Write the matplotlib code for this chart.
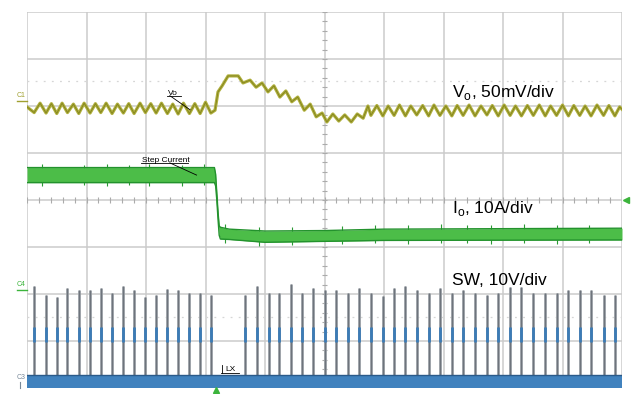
import matplotlib
matplotlib.use("Agg")
import matplotlib.pyplot as plt
import numpy as np

plt.rcParams['font.family'] = ['Liberation Sans', 'DejaVu Sans']

# screen is 10 x 8 divisions, time and level in divisions
# --- Vo trace (vertices, div) ---
vo_t = [0.0, 0.12, 0.22, 0.32, 0.41, 0.50, 0.59, 0.68, 0.78, 0.87, 0.96, 1.06, 1.15, 1.24,
        1.33, 1.43, 1.52, 1.62, 1.71, 1.80, 1.90, 1.99, 2.08, 2.17, 2.26, 2.36, 2.45, 2.54,
        2.63, 2.73, 2.82, 2.91, 3.00, 3.09, 3.16, 3.21, 3.28, 3.38, 3.55, 3.63, 3.75, 3.85,
        3.95, 4.05, 4.15, 4.25, 4.35, 4.45, 4.55, 4.66, 4.76, 4.86, 4.96, 5.04, 5.14, 5.24,
        5.34, 5.45, 5.55, 5.65, 5.73, 5.78, 5.88, 5.98, 6.07, 6.17, 6.26, 6.36, 6.45, 6.55,
        6.65, 6.75, 6.84, 6.94, 7.04, 7.14, 7.23, 7.33, 7.43, 7.53, 7.63, 7.73, 7.82, 7.92,
        8.02, 8.12, 8.21, 8.31, 8.41, 8.51, 8.61, 8.71, 8.80, 8.90, 9.00, 9.10, 9.19, 9.29,
        9.38, 9.48, 9.58, 9.69, 9.78, 9.88, 9.96, 10.0]
vo_v = [1.98, 1.86, 2.06, 1.85, 2.05, 1.84, 2.06, 1.86, 2.04, 1.84, 2.06, 1.85, 2.05, 1.86,
        2.06, 1.84, 2.04, 1.85, 2.05, 1.84, 2.06, 1.86, 2.05, 1.85, 2.06, 1.84, 2.04, 1.83,
        2.06, 1.84, 2.05, 1.84, 2.08, 1.85, 1.91, 2.30, 2.43, 2.64, 2.64, 2.49, 2.55, 2.40,
        2.49, 2.30, 2.43, 2.19, 2.32, 2.09, 2.19, 1.91, 2.04, 1.77, 1.85, 1.66, 1.83, 1.68,
        1.81, 1.66, 1.83, 1.74, 2.00, 1.80, 2.01, 1.79, 2.00, 1.80, 2.02, 1.79, 2.00, 1.81,
        2.01, 1.79, 2.02, 1.80, 2.00, 1.79, 2.01, 1.80, 2.02, 1.79, 2.00, 1.81, 2.01, 1.79,
        2.02, 1.80, 2.00, 1.79, 2.01, 1.80, 2.02, 1.79, 2.00, 1.80, 2.02, 1.79, 2.01, 1.80,
        2.00, 1.79, 2.02, 1.80, 2.01, 1.79, 1.98, 1.93]

# --- Io band (step current) ---
io_t = [0.0, 3.15, 3.17, 3.19, 3.21, 3.23, 3.25, 3.40, 4.0, 5.0, 6.0, 10.0]
io_top = [0.69, 0.69, 0.55, 0.15, -0.25, -0.55, -0.58, -0.62, -0.66, -0.65, -0.62, -0.60]
io_bot = [0.37, 0.37, 0.30, 0.00, -0.40, -0.75, -0.83, -0.84, -0.90, -0.88, -0.86, -0.85]
# noise spikes seen on the band edges
io_spk_t = [0.25, 0.95, 1.35, 1.72, 2.05, 2.60, 2.98, 3.32, 3.90, 4.45, 5.30, 5.85,
            6.40, 6.95, 7.40, 7.80, 8.35, 8.90, 9.45]
io_spk_hi = [0.76, 0.75, 0.77, 0.75, 0.76, 0.75, 0.77, -0.52, -0.58, -0.57, -0.55, -0.53,
             -0.54, -0.52, -0.53, -0.54, -0.52, -0.53, -0.54]
io_spk_lo = [0.30, 0.31, 0.29, 0.31, 0.30, 0.29, 0.31, -0.92, -0.97, -0.95, -0.93, -0.92,
             -0.94, -0.92, -0.91, -0.93, -0.92, -0.94, -0.92]

# --- SW pulses ---
sw_t = [0.12, 0.32, 0.50, 0.68, 0.87, 1.06, 1.24, 1.43, 1.62, 1.80, 1.99, 2.17, 2.36, 2.54,
        2.73, 2.91, 3.09, 3.66, 3.87, 4.06, 4.24, 4.43, 4.63, 4.81, 5.00, 5.19, 5.39, 5.58,
        5.78, 5.98, 6.17, 6.36, 6.55, 6.75, 6.94, 7.14, 7.33, 7.53, 7.73, 7.92, 8.12, 8.31,
        8.51, 8.71, 8.90, 9.10, 9.29, 9.48, 9.69, 9.88]
sw_top = [-1.84, -2.02, -2.06, -1.87, -1.91, -1.91, -1.87, -1.97, -1.84, -1.91, -2.06, -2.02,
          -1.89, -1.91, -1.97, -1.97, -2.02, -2.02, -1.83, -1.97, -1.98, -1.79, -1.97, -1.87,
          -1.91, -1.91, -1.97, -1.88, -1.97, -2.04, -1.88, -1.84, -1.91, -1.97, -1.88, -1.97,
          -1.91, -1.97, -2.02, -1.97, -1.86, -1.86, -1.97, -1.97, -1.97, -1.91, -1.91, -1.91,
          -2.02, -2.02]
sw_base = -3.72

fig = plt.figure(figsize=(6.36, 3.94), dpi=100)
ax = fig.add_axes([27 / 636, 1 - 388 / 394, 595 / 636, 376 / 394])
ax.set_xlim(0, 10)
ax.set_ylim(-4, 4)
ax.set_xticks([])
ax.set_yticks([])
for s in ax.spines.values():
    s.set_visible(False)

# graticule
grid_c = '#cbcbcb'
for x in range(11):
    ax.axvline(x, color=grid_c, lw=1.1, zorder=0)
for y in range(-4, 5):
    ax.axhline(y, color=grid_c, lw=1.1, zorder=0)
tk = np.arange(0, 10.01, 0.2)
ax.vlines(tk, -0.07, 0.07, color='#ababab', lw=0.8, zorder=0)
tk2 = np.arange(-4, 4.01, 0.2)
ax.hlines(tk2, 4.96, 5.04, color='#ababab', lw=0.8, zorder=0)
ax.axhline(2.53, color='#d6d6d6', lw=0.9, ls=(0, (1.5, 5)), zorder=0)
ax.axhline(-2.48, color='#d6d6d6', lw=0.9, ls=(0, (1.5, 5)), zorder=0)

# Vo
ax.plot(vo_t, vo_v, color='#b0b03e', lw=2.3, solid_joinstyle='round', zorder=3)
ax.plot(vo_t, vo_v, color='#85861f', lw=0.7, zorder=4)

# Io
ax.vlines(io_spk_t, io_spk_lo, io_spk_hi, color='#2a9a34', lw=0.8, zorder=3)
ax.fill_between(io_t, io_bot, io_top, color='#4cbd48', lw=0, zorder=3)
ax.plot(io_t, io_top, color='#23922d', lw=1.0, zorder=4)
ax.plot(io_t, io_bot, color='#23922d', lw=1.0, zorder=4)

# SW
ax.vlines(sw_t, sw_base, sw_top, color='#959ba1', lw=2.0, zorder=3)
ax.vlines(sw_t, sw_base, sw_top, color='#5d646c', lw=0.5, zorder=3)
ax.vlines(sw_t, -3.02, -2.70, color='#3b7bb6', lw=2.0, zorder=4)
ax.fill_between([0, 10], -4, sw_base, color='#4182be', lw=0, zorder=3)
ax.axhline(sw_base, color='#2a5a8a', lw=1.0, zorder=4)

# labels
ax.text(7.14, 2.2, r'V$_\mathregular{o}$, 50mV/div', fontsize=12.5, va='baseline', zorder=6)
ax.text(7.14, -0.28, r'I$_\mathregular{o}$, 10A/div', fontsize=12.5, va='baseline', zorder=6)
ax.text(7.14, -1.81, 'SW, 10V/div', fontsize=12.5, va='baseline', zorder=6)

ax.text(2.37, 2.24, 'Vo', fontsize=6, va='baseline', zorder=6)
ax.plot([2.36, 2.58], [2.22, 2.22], color='k', lw=0.6, zorder=6)
ax.plot([2.40, 2.74], [2.22, 1.92], color='k', lw=0.6, zorder=6)
ax.text(1.93, 0.81, 'Step Current', fontsize=6, va='baseline', zorder=6)
ax.plot([1.91, 2.71], [0.79, 0.79], color='k', lw=0.6, zorder=6)
ax.plot([2.40, 2.85], [0.79, 0.53], color='k', lw=0.6, zorder=6)
ax.text(3.33, -3.63, 'LX', fontsize=6, va='baseline', zorder=6)
ax.plot([3.26, 3.56], [-3.68, -3.68], color='k', lw=0.6, zorder=6)
ax.plot([3.28, 3.28], [-3.68, -3.50], color='k', lw=0.6, zorder=6)

# channel markers and trigger
fig.text(17 / 636, 1 - 99 / 394, 'C1', fontsize=5, color='#a0a030', va='bottom')
fig.add_artist(plt.Line2D([17 / 636, 27 / 636], [1 - 101 / 394] * 2, color='#a0a030', lw=1))
fig.text(17 / 636, 1 - 288 / 394, 'C4', fontsize=5, color='#3cb43c', va='bottom')
fig.add_artist(plt.Line2D([17 / 636, 27 / 636], [1 - 290 / 394] * 2, color='#3cb43c', lw=1))
fig.text(17 / 636, 1 - 381 / 394, 'C3', fontsize=5, color='#7a8a9a', va='bottom')
fig.add_artist(plt.Line2D([20 / 636, 20 / 636], [1 - 382 / 394, 1 - 388 / 394], color='#7a8a9a', lw=0.8))
ax.plot([10.06], [0], marker='<', color='#3cb43c', ms=5, clip_on=False, zorder=6)
ax.plot([3.17], [-4.05], marker='^', color='#3cb43c', ms=5, clip_on=False, zorder=6)

fig.savefig('out.png', dpi=100)
